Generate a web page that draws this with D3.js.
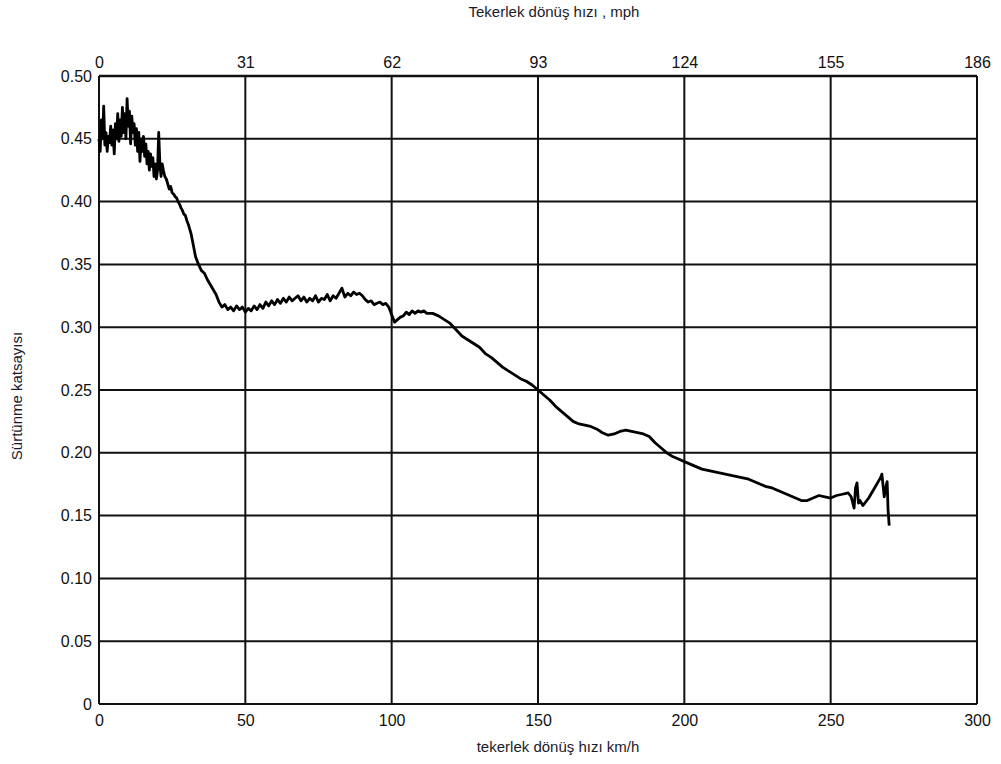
<!DOCTYPE html>
<html>
<head>
<meta charset="utf-8">
<script src="https://cdn.jsdelivr.net/npm/d3@7"></script>
<style>
  body { margin: 0; background: #fff; }
  svg { display: block; }
  .tick text { font-family: "Liberation Sans", Arial, sans-serif; font-size: 16px; fill: #111; }
  .axis-title { font-family: "Liberation Sans", Arial, sans-serif; font-size: 15px; fill: #1a1a2a; }
</style>
</head>
<body>
<svg id="chart" width="1001" height="764"></svg>
<script>
// wheel speed km/h
const speedKmh = [
  0, 0.4, 0.8, 1.2, 1.6, 2, 2.4, 2.8, 3.2, 3.6, 4, 4.4, 4.8, 5.2, 5.6, 6, 6.4, 6.8, 7.2, 7.6,
  8, 8.4, 8.8, 9.2, 9.6, 10, 10.4, 10.8, 11.2, 11.6, 12, 12.4, 12.8, 13.2, 13.6, 14, 14.4, 14.8, 15.2, 15.6,
  16, 16.4, 16.8, 17.2, 17.6, 18, 18.4, 18.8, 19.2, 19.6, 20, 20.4, 20.8, 21.2, 21.6, 22, 22.5, 23, 23.5, 24,
  24.5, 25, 25.5, 26, 26.5, 27, 27.5, 28, 28.5, 29, 29.5, 30, 30.5, 31, 31.5, 32, 33, 34, 35, 36,
  37, 38, 39, 40, 41, 42, 43, 44, 45, 46, 47, 48, 49, 50, 51, 52, 53, 54, 55, 56,
  57, 58, 59, 60, 61, 62, 63, 64, 65, 66, 67, 68, 69, 70, 71, 72, 73, 74, 75, 76,
  77, 78, 79, 80, 81, 82, 83, 84, 85, 86, 87, 88, 89, 90, 91, 92, 93, 94, 95, 96,
  97, 98, 99, 100, 101, 102, 103, 104, 105, 106, 107, 108, 109, 110, 111, 112, 114, 116, 118, 120,
  122, 124, 126, 128, 130, 132, 134, 136, 138, 140, 142, 144, 146, 148, 150, 152, 154, 156, 158, 160,
  162, 164, 166, 168, 170, 172, 174, 176, 178, 180, 182, 184, 186, 188, 190, 192, 194, 196, 198, 200,
  202, 204, 206, 208, 210, 212, 214, 216, 218, 220, 222, 224, 226, 228, 230, 232, 234, 236, 238, 240,
  242, 244, 246, 248, 250, 252, 254, 256, 257, 258, 258.5, 259, 259.5, 260, 261, 263, 265, 267, 267.5, 268.3,
  268.8, 269.3, 269.6, 270
];
// friction coefficient
const friction = [
  0.450, 0.440, 0.465, 0.450, 0.476, 0.445, 0.455, 0.440, 0.452, 0.447, 0.460, 0.445, 0.457, 0.438, 0.462, 0.450, 0.470, 0.448, 0.465, 0.452,
  0.475, 0.455, 0.470, 0.450, 0.482, 0.460, 0.472, 0.446, 0.468, 0.455, 0.462, 0.445, 0.458, 0.440, 0.455, 0.432, 0.450, 0.440, 0.452, 0.436,
  0.446, 0.430, 0.440, 0.425, 0.438, 0.428, 0.435, 0.420, 0.430, 0.418, 0.425, 0.455, 0.430, 0.420, 0.430, 0.425, 0.420, 0.418, 0.414, 0.410,
  0.412, 0.407, 0.406, 0.404, 0.403, 0.400, 0.398, 0.395, 0.393, 0.390, 0.389, 0.385, 0.382, 0.378, 0.374, 0.368, 0.356, 0.350, 0.345, 0.343,
  0.338, 0.334, 0.330, 0.326, 0.320, 0.316, 0.318, 0.314, 0.316, 0.313, 0.317, 0.314, 0.316, 0.312, 0.315, 0.313, 0.317, 0.314, 0.318, 0.315,
  0.320, 0.317, 0.321, 0.318, 0.322, 0.319, 0.323, 0.320, 0.324, 0.321, 0.323, 0.325, 0.321, 0.324, 0.320, 0.323, 0.321, 0.325, 0.320, 0.323,
  0.322, 0.326, 0.321, 0.325, 0.323, 0.327, 0.331, 0.324, 0.327, 0.325, 0.328, 0.326, 0.327, 0.325, 0.322, 0.320, 0.321, 0.318, 0.319, 0.320,
  0.318, 0.319, 0.316, 0.310, 0.304, 0.306, 0.308, 0.309, 0.312, 0.310, 0.313, 0.311, 0.313, 0.312, 0.313, 0.311, 0.311, 0.309, 0.306, 0.303,
  0.298, 0.293, 0.290, 0.287, 0.284, 0.279, 0.276, 0.272, 0.268, 0.265, 0.262, 0.259, 0.257, 0.254, 0.250, 0.246, 0.242, 0.237, 0.233, 0.229,
  0.225, 0.223, 0.222, 0.221, 0.219, 0.216, 0.214, 0.215, 0.217, 0.218, 0.217, 0.216, 0.215, 0.213, 0.208, 0.204, 0.200, 0.197, 0.195, 0.193,
  0.191, 0.189, 0.187, 0.186, 0.185, 0.184, 0.183, 0.182, 0.181, 0.180, 0.179, 0.177, 0.175, 0.173, 0.172, 0.170, 0.168, 0.166, 0.164, 0.162,
  0.162, 0.164, 0.166, 0.165, 0.164, 0.166, 0.167, 0.168, 0.165, 0.156, 0.172, 0.176, 0.160, 0.162, 0.158, 0.164, 0.172, 0.180, 0.183, 0.165,
  0.172, 0.177, 0.155, 0.142
];

const kmhTicks = [0, 50, 100, 150, 200, 250, 300];
const mphTicks = [0, 31, 62, 93, 124, 155, 186];
const frictionTicks = [0, 0.05, 0.10, 0.15, 0.20, 0.25, 0.30, 0.35, 0.40, 0.45, 0.50];

const plotLeft = 99, plotRight = 977, plotTop = 76, plotBottom = 704;

const svg = d3.select('#chart');

const x = d3.scaleLinear().domain([0, 300]).range([plotLeft, plotRight]);
const xTop = d3.scaleLinear().domain([0, 186]).range([plotLeft, plotRight]);
const y = d3.scaleLinear().domain([0, 0.5]).range([plotBottom, plotTop]);

// grid
let grid = svg.append('g')
grid.selectAll('.vgrid')
  .data(kmhTicks)
  .join('line')
  .attr('x1', d => x(d)).attr('x2', d => x(d))
  .attr('y1', plotTop).attr('y2', plotBottom)
  .attr('stroke', '#111').attr('stroke-width', 2)

grid.selectAll('.hgrid')
  .data(frictionTicks)
  .join('line')
  .attr('x1', plotLeft).attr('x2', plotRight)
  .attr('y1', d => y(d)).attr('y2', d => y(d))
  .attr('stroke', '#111').attr('stroke-width', d => d === 0.5 ? 2.5 : 2)

// axes (labels only, grid draws the lines)
let xAxis = d3.axisBottom(x).tickValues(kmhTicks).tickSize(0).tickPadding(11).tickFormat(d3.format('d'))
svg.append('g').attr('transform', `translate(0,${plotBottom})`).call(xAxis)
  .call(g => g.select('.domain').remove())

let topAxis = d3.axisTop(xTop).tickValues(mphTicks).tickSize(0).tickPadding(8).tickFormat(d3.format('d'))
svg.append('g').attr('transform', `translate(0,${plotTop})`).call(topAxis)
  .call(g => g.select('.domain').remove())

let yAxis = d3.axisLeft(y).tickValues(frictionTicks).tickSize(0).tickPadding(7)
  .tickFormat(d => d === 0 ? '0' : d3.format('.2f')(d))
svg.append('g').attr('transform', `translate(${plotLeft},0)`).call(yAxis)
  .call(g => g.select('.domain').remove())

// curve
const points = speedKmh.map((s, i) => [s, friction[i]])
let line = d3.line().x(d => x(d[0])).y(d => y(d[1]))
svg.append('path')
  .datum(points)
  .attr('d', line)
  .attr('fill', 'none')
  .attr('stroke', '#000')
  .attr('stroke-width', 2.8)
  .attr('stroke-linejoin', 'round')

// titles
svg.append('text').classed('axis-title', true)
  .attr('x', 554).attr('y', 17).attr('text-anchor', 'middle')
  .text('Tekerlek dönüş hızı  , mph')

svg.append('text').classed('axis-title', true)
  .attr('x', 558).attr('y', 752).attr('text-anchor', 'middle')
  .text('tekerlek dönüş hızı km/h')

svg.append('text').classed('axis-title', true)
  .attr('transform', 'translate(22,396) rotate(-90)')
  .attr('text-anchor', 'middle')
  .text('Sürtünme katsayısı')
</script>
</body>
</html>
